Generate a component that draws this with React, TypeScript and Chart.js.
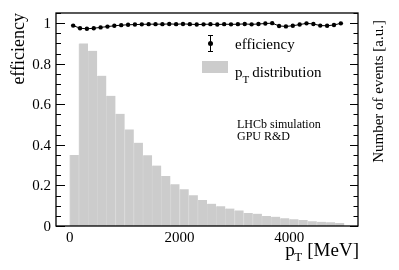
import { useEffect, useRef } from "react";
import { Chart, registerables } from "chart.js";

Chart.register(...registerables);

// ---- data ----
const ptRange = [0, 5000];
const histValues = [
  0.35, 0.9, 0.864, 0.741, 0.642, 0.553, 0.476, 0.411, 0.349, 0.298,
  0.247, 0.206, 0.181, 0.151, 0.128, 0.11, 0.097, 0.086, 0.077, 0.064,
  0.061, 0.049, 0.046, 0.038, 0.033, 0.03, 0.023, 0.021, 0.018, 0.015,
];
const effValues = [
  0.988, 0.975, 0.972, 0.975, 0.979, 0.983, 0.987, 0.99, 0.992, 0.993,
  0.994, 0.995, 0.995, 0.995, 0.996, 0.995, 0.996, 0.995, 0.993, 0.994,
  0.995, 0.993, 0.995, 0.994, 0.995, 0.996, 0.994, 0.996, 0.998, 1.0,
  0.986, 0.984, 0.987, 0.993, 0.999, 0.996, 0.988, 0.987, 0.991, 0.999,
];
const xMajorLabels = [0, 2000, 4000];
const yMajorLabels = [0, 0.2, 0.4, 0.6, 0.8, 1];

const FONT = '"Liberation Serif", "DejaVu Serif", serif';

export default function App() {
  const ref = useRef<HTMLCanvasElement>(null);

  useEffect(() => {
    if (!ref.current) return;
    const [lo, hi] = ptRange;
    const histW = (hi - lo) / histValues.length;
    const effW = (hi - lo) / effValues.length;
    const histData = histValues.map((v, i) => ({ x: lo + histW * (i + 0.5), y: v }));
    const effData = effValues.map((v, i) => ({ x: lo + effW * (i + 0.5), y: v }));

    const framePlugin = {
      id: "rootFrame",
      afterDraw(chart: any) {
        const { ctx, chartArea: a, scales } = chart;
        const xs = scales.x;
        const ys = scales.y;
        ctx.save();
        ctx.strokeStyle = "#000";
        ctx.lineWidth = 1.3;
        ctx.strokeRect(a.left, a.top, a.right - a.left, a.bottom - a.top);

        ctx.lineWidth = 1;
        ctx.beginPath();
        xs.ticks.forEach((t: any) => {
          if (Math.abs(t.value % 500) > 1e-6) return;
          const px = Math.round(xs.getPixelForValue(t.value)) + 0.5;
          const major = xMajorLabels.includes(t.value);
          const len = major ? 7 : 3.5;
          ctx.moveTo(px, a.bottom);
          ctx.lineTo(px, a.bottom - len);
          ctx.moveTo(px, a.top);
          ctx.lineTo(px, a.top + len);
        });
        ys.ticks.forEach((t: any) => {
          const v = t.value;
          if (v > 1.0500001) return;
          const py = Math.round(ys.getPixelForValue(v)) + 0.5;
          const major = Math.abs(v * 5 - Math.round(v * 5)) < 1e-6;
          ctx.moveTo(a.left, py);
          ctx.lineTo(a.left + (major ? 9 : 5), py);
          ctx.moveTo(a.right, py);
          ctx.lineTo(a.right - (major ? 8 : 4.5), py);
        });
        ctx.stroke();

        ctx.fillStyle = "#000";
        // y tick labels
        ctx.font = `15px ${FONT}`;
        ctx.textAlign = "right";
        ctx.textBaseline = "alphabetic";
        yMajorLabels.forEach((v) => {
          const py = ys.getPixelForValue(v);
          ctx.fillText(String(v), 51, py + 5);
        });
        // x tick labels
        ctx.textAlign = "center";
        xMajorLabels.forEach((v) => {
          const px = xs.getPixelForValue(v);
          ctx.fillText(String(v), px, 242);
        });

        // x title: p_T [MeV]
        ctx.textAlign = "left";
        ctx.font = `19px ${FONT}`;
        const mev = "[MeV]";
        const wMev = ctx.measureText(mev).width;
        const wp = ctx.measureText("p").width;
        ctx.font = `13px ${FONT}`;
        const wT = ctx.measureText("T").width;
        const mevLeft = 359 - wMev;
        const tLeft = mevLeft - 5 - wT;
        const pLeft = tLeft - wp + 0.5;
        ctx.font = `19px ${FONT}`;
        ctx.fillText(mev, mevLeft, 256);
        ctx.fillText("p", pLeft, 256);
        ctx.font = `13px ${FONT}`;
        ctx.fillText("T", tLeft, 261);

        // y title
        ctx.save();
        ctx.translate(23.5, 13);
        ctx.rotate(-Math.PI / 2);
        ctx.textAlign = "right";
        ctx.font = `18px ${FONT}`;
        ctx.fillText("efficiency", 0, 0);
        ctx.restore();

        // right title
        ctx.save();
        ctx.translate(383, 20);
        ctx.rotate(-Math.PI / 2);
        ctx.textAlign = "right";
        ctx.font = `15px ${FONT}`;
        ctx.fillText("Number of events [a.u.]", 0, 0);
        ctx.restore();

        // legend
        ctx.beginPath();
        ctx.lineWidth = 1;
        ctx.moveTo(210.5, 35);
        ctx.lineTo(210.5, 52);
        ctx.moveTo(208, 35.5);
        ctx.lineTo(213, 35.5);
        ctx.moveTo(208, 51.5);
        ctx.lineTo(213, 51.5);
        ctx.stroke();
        ctx.beginPath();
        ctx.arc(210.5, 43.5, 2.5, 0, Math.PI * 2);
        ctx.fill();
        ctx.textAlign = "left";
        ctx.font = `15px ${FONT}`;
        ctx.fillText("efficiency", 235, 49);

        ctx.fillStyle = "#cccccc";
        ctx.fillRect(202, 61, 26, 12);
        ctx.fillStyle = "#000";
        ctx.font = `15px ${FONT}`;
        ctx.fillText("p", 235, 77);
        const wp2 = ctx.measureText("p").width;
        ctx.font = `11px ${FONT}`;
        ctx.fillText("T", 235 + wp2, 83);
        const wT2 = ctx.measureText("T").width;
        ctx.font = `15px ${FONT}`;
        ctx.fillText("distribution", 235 + wp2 + wT2 + 3, 77);

        // annotation
        ctx.font = `12px ${FONT}`;
        ctx.fillText("LHCb simulation", 237, 127.5);
        ctx.fillText("GPU R&D", 237, 139.5);

        ctx.restore();
      },
    };

    const chart = new Chart(ref.current, {
      type: "bar",
      data: {
        datasets: [
          {
            type: "line",
            label: "efficiency",
            data: effData,
            xAxisID: "x",
            yAxisID: "y",
            borderColor: "#000",
            backgroundColor: "#000",
            borderWidth: 1,
            pointRadius: 2.2,
            pointBorderWidth: 0,
            pointBackgroundColor: "#000",
            tension: 0,
            order: 0,
          } as any,
          {
            type: "bar",
            label: "pT distribution",
            data: histData,
            xAxisID: "x",
            yAxisID: "y2",
            backgroundColor: "#cccccc",
            borderColor: "#d3d3d3",
            borderWidth: { left: 1, right: 0, top: 0, bottom: 0 },
            borderSkipped: false,
            barPercentage: 1,
            categoryPercentage: 1,
            order: 1,
          } as any,
        ],
      },
      options: {
        animation: false,
        responsive: false,
        events: [],
        layout: { padding: { top: 13, left: 0, right: 0, bottom: 0 } },
        plugins: {
          legend: { display: false },
          tooltip: { enabled: false },
        },
        scales: {
          x: {
            type: "linear",
            min: -250,
            max: 5250,
            offset: false,
            ticks: { display: false, stepSize: 500 },
            grid: { display: false, drawTicks: false, offset: false },
            border: { display: false },
            afterFit: (s: any) => {
              s.height = 44;
            },
          },
          y: {
            type: "linear",
            position: "left",
            min: 0,
            max: 1.05,
            ticks: { display: false, stepSize: 0.05 },
            grid: { display: false, drawTicks: false },
            border: { display: false },
            afterFit: (s: any) => {
              s.width = 56;
            },
          },
          y2: {
            type: "linear",
            position: "right",
            min: 0,
            max: 1.05,
            ticks: { display: false, stepSize: 0.05 },
            grid: { display: false, drawTicks: false },
            border: { display: false },
            afterFit: (s: any) => {
              s.width = 41;
            },
          },
        } as any,
      },
      plugins: [framePlugin],
    });
    return () => chart.destroy();
  }, []);

  return (
    <div style={{ position: "absolute", left: 0, top: 0, width: 399, height: 270, background: "#fff" }}>
      <canvas ref={ref} width={399} height={270} />
    </div>
  );
}
